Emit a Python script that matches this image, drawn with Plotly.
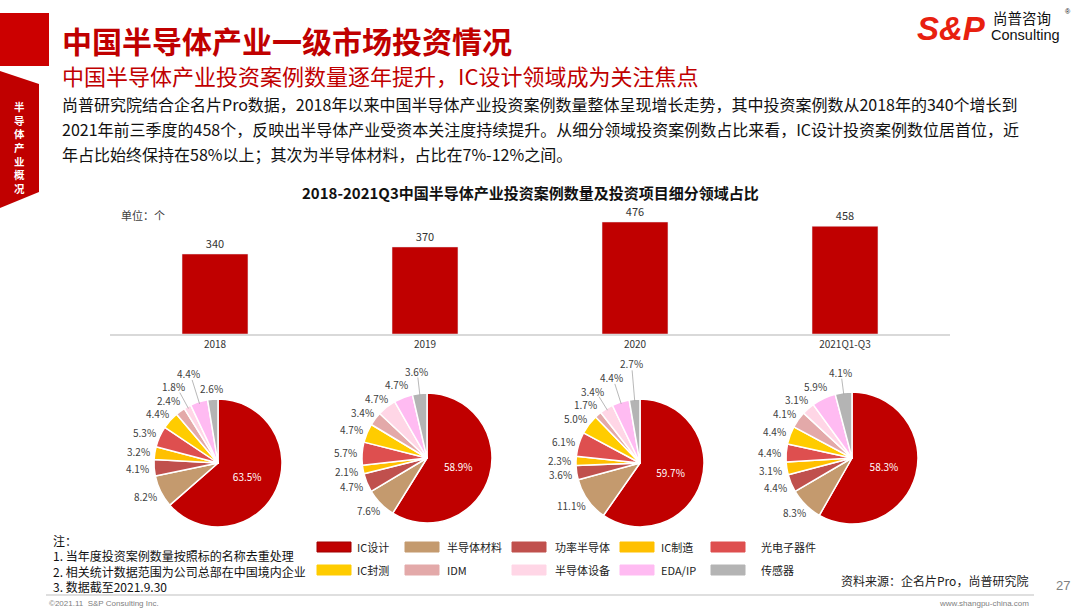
import math
import plotly.graph_objects as go

W, H = 1080, 611

years = ["2018", "2019", "2020", "2021Q1-Q3"]
cases = [340, 370, 476, 458]

segments = ["IC设计", "半导体材料", "功率半导体", "IC制造", "光电子器件",
            "IC封测", "IDM", "半导体设备", "EDA/IP", "传感器"]
seg_colors = ["#C00000", "#C49A6E", "#C0504D", "#FFC000", "#DE4F4F",
              "#FFCC00", "#E3A9A9", "#FFD6E6", "#FFBBF2", "#B4B4B4"]

share_2018 = [63.5, 8.2, 4.1, 3.2, 5.3, 4.4, 2.4, 1.8, 4.4, 2.6]
share_2019 = [58.9, 7.6, 4.7, 2.1, 5.7, 4.7, 3.4, 4.7, 4.7, 3.6]
share_2020 = [59.7, 11.1, 3.6, 2.3, 6.1, 5.0, 1.7, 3.4, 4.4, 2.7]
share_2021 = [58.3, 8.3, 4.4, 3.1, 4.4, 4.4, 4.1, 3.1, 5.9, 4.1]
shares = [share_2018, share_2019, share_2020, share_2021]

title = "中国半导体产业一级市场投资情况"
subtitle = "中国半导体产业投资案例数量逐年提升，IC设计领域成为关注焦点"
body = [
    "尚普研究院结合企名片Pro数据，2018年以来中国半导体产业投资案例数量整体呈现增长走势，其中投资案例数从2018年的340个增长到",
    "2021年前三季度的458个，反映出半导体产业受资本关注度持续提升。从细分领域投资案例数占比来看，IC设计投资案例数位居首位，近",
    "年占比始终保持在58%以上；其次为半导体材料，占比在7%-12%之间。",
]
chart_title = "2018-2021Q3中国半导体产业投资案例数量及投资项目细分领域占比"
notes = ["注：", "1. 当年度投资案例数量按照标的名称去重处理",
         "2. 相关统计数据范围为公司总部在中国境内企业", "3. 数据截至2021.9.30"]

FONT = "Noto Sans CJK SC, Noto Sans, sans-serif"
LAT = "Liberation Sans, Arial, sans-serif"


def X(px):
    return px / W


def Y(py):
    return 1 - py / H


fig = go.Figure()
shapes = []
ann = []


def txt(s, x, y, size, color="#000000", anchor="left", bold=False, family=FONT, **kw):
    if bold:
        s = "<b>" + s + "</b>"
    ann.append(dict(text=s, x=X(x), y=Y(y), xref="paper", yref="paper",
                    xanchor=anchor, yanchor="middle", showarrow=False,
                    font=dict(size=size, color=color, family=family), **kw))


# bar chart
fig.add_trace(go.Bar(
    x=years, y=cases, width=0.314, marker_color="#C00000",
    text=cases, textposition="outside", cliponaxis=False,
    textfont=dict(size=11, color="#333333", family=FONT),
    hoverinfo="skip", showlegend=False,
))


def overlaps(a, b):
    return not (a[2] < b[0] or b[2] < a[0] or a[3] < b[1] or b[3] < a[1])


def outside_labels(vals, cx, cy, r):
    # label boxes placed around the pie, pushed outward when they collide
    total = sum(vals)
    placed = []
    cum = 0.0
    for i, v in enumerate(vals):
        a0 = cum / total * 2 * math.pi
        cum += v
        if i == 0:
            continue
        th = (a0 + cum / total * 2 * math.pi) / 2
        ux, uy = math.sin(th), -math.cos(th)
        s = f"{v:.1f}%"
        w = 6.2 * (len(s) - 2) + 3 + 9.5
        h = 13
        R = r + 4
        while True:
            bx = cx + ux * R + ux * w / 2
            by = cy + uy * R + uy * h / 2
            box = (bx - w / 2 - 2, by - h / 2, bx + w / 2 + 2, by + h / 2)
            if not any(overlaps(box, p) for p in placed):
                break
            R += 1
        placed.append(box)
        txt(s, bx, by, 10, "#404040", anchor="center")
        if R > r + 9:
            shapes.append(dict(type="line", xref="paper", yref="paper",
                               x0=X(cx + ux * (r - 2)), y0=Y(cy + uy * (r - 2)),
                               x1=X(cx + ux * R), y1=Y(cy + uy * R),
                               line=dict(color="#A6A6A6", width=0.8)))


# pies
pie_pos = [(218, 463, 64), (427, 458, 65), (640, 463, 64), (852, 458, 66)]
for vals, (cx, cy, r) in zip(shares, pie_pos):
    fig.add_trace(go.Pie(
        labels=segments, values=vals, sort=False, direction="clockwise",
        rotation=0, marker=dict(colors=seg_colors, line=dict(color="white", width=1.5)),
        texttemplate="%{value:.1f}%",
        textposition=["inside"] + ["none"] * 9,
        insidetextorientation="horizontal",
        insidetextfont=dict(color="white", size=10, family=FONT),
        domain=dict(x=[X(cx - r), X(cx + r)], y=[Y(cy + r), Y(cy - r)]),
        hoverinfo="skip", showlegend=False,
    ))
    outside_labels(vals, cx, cy, r)

shapes += [
    # top-left red block
    dict(type="rect", xref="paper", yref="paper", x0=0, x1=X(49), y0=Y(66), y1=Y(13),
         fillcolor="#CC0000", line_width=0),
    # side tab
    dict(type="path", xref="paper", yref="paper",
         path=f"M 0,{Y(71)} L {X(39)},{Y(84)} L {X(39)},{Y(192)} L 0,{Y(208)} Z",
         fillcolor="#C00000", line_width=0),
    # footer rule
    dict(type="line", xref="paper", yref="paper", x0=X(46), x1=X(1034), y0=Y(595), y1=Y(595),
         line=dict(color="#BFBFBF", width=1)),
]

txt(title, 60, 40, 30, "#C00000", bold=True)
txt(subtitle, 60, 75, 22, "#C00000")
for i, line in enumerate(body):
    txt(line, 60, 104 + i * 25, 16, "#111111")
txt(chart_title, 530, 193, 15, "#111111", anchor="center", bold=True)
txt("单位：个", 119, 215, 11, "#404040")

# side tab text
txt("<br>".join("半导体产业概况"), 19, 147, 10.5, "white", anchor="center", bold=True)

# notes
for i, line in enumerate(notes):
    txt(line, 51, 540 + i * 15.5, 12, "#111111")

# legend
leg_x = [317, 405, 512, 620, 711]
leg_tx = [355, 445, 553, 659, 759]
for i, (name, col) in enumerate(zip(segments, seg_colors)):
    row, c = divmod(i, 5)
    yc = 547 + row * 23
    shapes.append(dict(type="rect", xref="paper", yref="paper",
                       x0=X(leg_x[c]), x1=X(leg_x[c] + 34), y0=Y(yc + 5), y1=Y(yc - 5),
                       fillcolor=col, line=dict(color="#A00000" if i == 0 else col, width=1)))
    txt(name, leg_tx[c], yc, 11, "#222222")

# footer
txt("资料来源：企名片Pro，尚普研究院", 1030, 580, 12, "#222222", anchor="right")
txt("27", 1072, 585, 13, "#808080", anchor="right", family=LAT)
txt("©2021.11  S&P Consulting Inc.", 47, 603, 8, "#808080", family=LAT)
txt("www.shangpu-china.com", 1031, 603, 8, "#808080", anchor="right", family=LAT)

# logo
ann.append(dict(text="<b><i>S&amp;P</i></b>", x=X(988), y=Y(28), xref="paper", yref="paper",
                xanchor="right", yanchor="middle", showarrow=False,
                font=dict(size=33, color="#E8200F", family=LAT)))
txt("尚普咨询", 991, 18, 14.5, "#111111")
txt("Consulting", 989, 35, 14.5, "#111111", family=LAT)
txt("®", 1063, 12, 7, "#111111", family=LAT)

ymax = 130 / (80 / 340)
fig.update_layout(
    width=W, height=H, margin=dict(l=0, r=0, t=0, b=0),
    paper_bgcolor="white", plot_bgcolor="white",
    shapes=shapes, annotations=ann,
    xaxis=dict(domain=[X(110), X(950)], range=[-0.5, 3.5], showline=True,
               linecolor="#D9D9D9", linewidth=1.5, ticks="", showgrid=False,
               tickfont=dict(size=10, color="#333333", family=FONT), fixedrange=True),
    yaxis=dict(domain=[Y(334), Y(204)], range=[0, ymax], visible=False, fixedrange=True),
    font=dict(family=FONT),
)

fig.write_html("out.html", config={"displayModeBar": False},
               post_script="document.body.style.margin='0';")
